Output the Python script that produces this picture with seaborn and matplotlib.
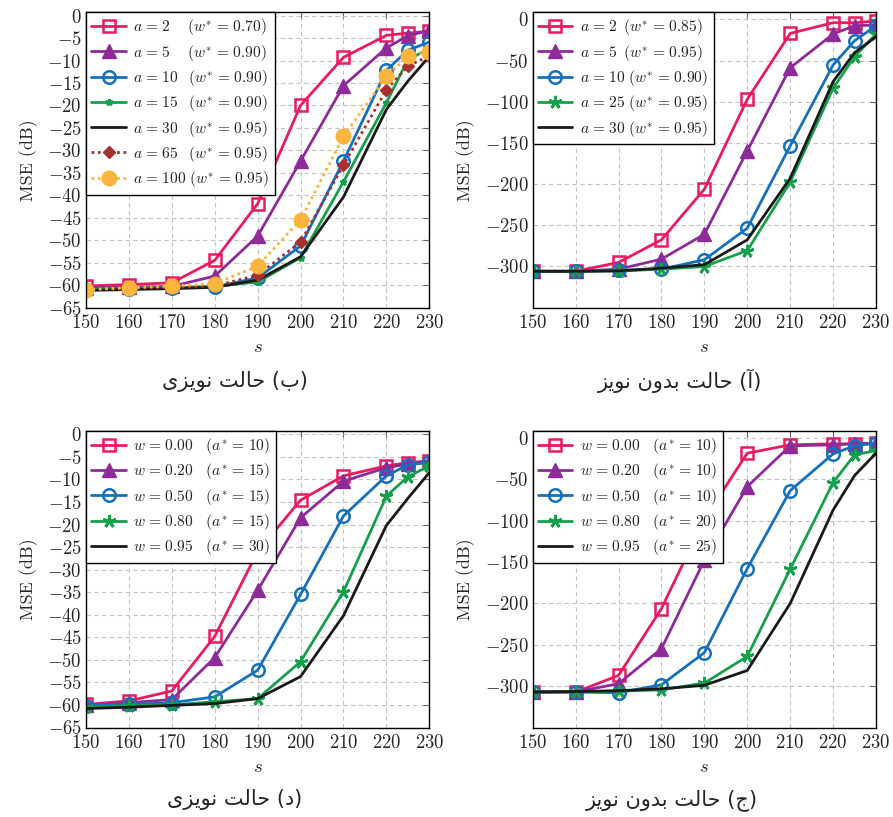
import numpy as np
import pandas as pd
import matplotlib
matplotlib.use("Agg")
import matplotlib.pyplot as plt
from matplotlib.ticker import FixedLocator
import seaborn as sns

# ---------------------------------------------------------------- data
s_vals = [150, 160, 170, 180, 190, 200, 210, 220, 225, 230]

# (b) noisy case, different a
noisy_a_labels = [2, 5, 10, 15, 30, 65, 100]
noisy_a_wstar = ["0.70", "0.90", "0.90", "0.90", "0.95", "0.95", "0.95"]
noisy_a2 = [-60.2, -59.9, -59.5, -54.5, -41.9, -20.0, -9.3, -4.4, -3.9, -3.5]
noisy_a5 = [-60.6, -60.5, -60.3, -58.0, -49.1, -32.4, -15.6, -7.2, -4.5, -3.3]
noisy_a10 = [-61.0, -60.8, -60.6, -60.4, -58.4, -51.3, -32.4, -12.2, -7.7, -5.9]
noisy_a15 = [-61.0, -60.8, -60.6, -60.3, -59.3, -53.9, -37.0, -19.4, -9.8, -7.4]
noisy_a30 = [-61.2, -61.0, -60.8, -60.5, -58.9, -53.7, -40.4, -20.9, -14.6, -9.1]
noisy_a65 = [-61.0, -60.8, -60.5, -60.2, -57.8, -50.4, -33.3, -16.5, -11.3, -8.9]
noisy_a100 = [-61.0, -60.6, -60.2, -59.7, -55.8, -45.5, -26.9, -13.5, -9.1, -8.1]

# (a) noiseless case, different a
clean_a_labels = [2, 5, 10, 25, 30]
clean_a_wstar = ["0.85", "0.95", "0.90", "0.95", "0.95"]
clean_a2 = [-306, -306, -295.3, -267.8, -206.3, -97.1, -17.0, -4.0, -4.0, -2.0]
clean_a5 = [-306, -306, -303.4, -291.3, -261.0, -159.8, -58.7, -17.8, -7.7, -6.9]
clean_a10 = [-306, -306, -305.0, -303.4, -292.0, -253.6, -153.7, -55.4, -25.9, -7.7]
clean_a25 = [-306, -306, -305.5, -303.4, -300.2, -280.8, -197.8, -83.7, -45.3, -17.8]
clean_a30 = [-306, -306, -305.5, -302.2, -298.0, -267.8, -193.0, -75.6, -40.5, -21.0]

# (d) noisy case, different w
noisy_w_labels = ["0.00", "0.20", "0.50", "0.80", "0.95"]
noisy_w_astar = [10, 15, 15, 15, 30]
noisy_w00 = [-59.9, -59.1, -56.9, -44.8, -26.0, -14.6, -9.2, -7.0, -6.3, -5.9]
noisy_w20 = [-60.0, -59.5, -58.8, -49.5, -34.6, -18.5, -10.4, -7.4, -6.6, -6.1]
noisy_w50 = [-60.2, -59.9, -59.5, -58.2, -52.3, -35.5, -18.1, -9.2, -6.8, -6.2]
noisy_w80 = [-60.5, -60.2, -60.0, -59.3, -58.6, -50.4, -34.9, -13.7, -9.4, -7.0]
noisy_w95 = [-60.8, -60.5, -60.1, -59.7, -58.6, -53.7, -40.2, -20.2, -14.2, -8.5]

# (c) noiseless case, different w
clean_w_labels = ["0.00", "0.20", "0.50", "0.80", "0.95"]
clean_w_astar = [10, 10, 10, 20, 25]
clean_w00 = [-307.2, -307.2, -287.0, -206.2, -98.0, -18.2, -8.1, -6.9, -6.9, -6.1]
clean_w20 = [-307, -307, -297.0, -254.7, -147.6, -58.6, -9.3, -8.1, -6.9, -6.1]
clean_w50 = [-307, -307, -308.0, -298.3, -259.5, -157.7, -63.5, -19.0, -9.3, -6.1]
clean_w80 = [-307, -307, -306.0, -304.4, -296.3, -264.0, -158.5, -53.8, -20.2, -15.0]
clean_w95 = [-307, -306.5, -305.5, -303.2, -299.0, -281.0, -200.0, -87.0, -45.3, -18.2]

captions = {
    "tl": "(ب) حالت نویزی",
    "tr": "(آ) حالت بدون نویز",
    "bl": "(د) حالت نویزی",
    "br": "(ج) حالت بدون نویز",
}

# ---------------------------------------------------------------- styles
PINK = "#ea1b5e"
PURPLE = "#8e2b98"
BLUE = "#1570be"
GREEN = "#15a04b"
BLACK = "#1a1a1a"
DARKRED = "#a8302e"
ORANGE = "#fbb43c"
ASTERISK = (5, 2, 0)

STYLE = {
    "sq": dict(color=PINK, marker="s", markersize=8.5, markerfacecolor="none",
               markeredgecolor=PINK, markeredgewidth=1.8),
    "tri": dict(color=PURPLE, marker="^", markersize=9.5, markerfacecolor=PURPLE,
                markeredgecolor=PURPLE, markeredgewidth=1.0),
    "circ": dict(color=BLUE, marker="o", markersize=9, markerfacecolor="none",
                 markeredgecolor=BLUE, markeredgewidth=1.8),
    "star_small": dict(color=GREEN, marker=ASTERISK, markersize=5,
                       markerfacecolor=GREEN, markeredgecolor=GREEN, markeredgewidth=1.8),
    "star": dict(color=GREEN, marker=ASTERISK, markersize=9.5,
                 markerfacecolor=GREEN, markeredgecolor=GREEN, markeredgewidth=2.0),
    "plain": dict(color=BLACK),
    "diam": dict(color=DARKRED, marker="D", markersize=6.5, markerfacecolor=DARKRED,
                 markeredgecolor=DARKRED, markeredgewidth=1.0, linestyle=(0, (1, 1.3))),
    "dot": dict(color=ORANGE, marker="o", markersize=10.5, markerfacecolor=ORANGE,
                markeredgecolor=ORANGE, markeredgewidth=1.0, linestyle=(0, (1, 1.3))),
}

# ---------------------------------------------------------------- Persian text
FORMS = {
    "\u0627": ("\uFE8D", "\uFE8E", None, None),
    "\u0622": ("\uFE81", "\uFE82", None, None),
    "\u0628": ("\uFE8F", "\uFE90", "\uFE91", "\uFE92"),
    "\u062A": ("\uFE95", "\uFE96", "\uFE97", "\uFE98"),
    "\u062C": ("\uFE9D", "\uFE9E", "\uFE9F", "\uFEA0"),
    "\u062D": ("\uFEA1", "\uFEA2", "\uFEA3", "\uFEA4"),
    "\u062F": ("\uFEA9", "\uFEAA", None, None),
    "\u0632": ("\uFEAF", "\uFEB0", None, None),
    "\u0644": ("\uFEDD", "\uFEDE", "\uFEDF", "\uFEE0"),
    "\u0646": ("\uFEE5", "\uFEE6", "\uFEE7", "\uFEE8"),
    "\u0648": ("\uFEED", "\uFEEE", None, None),
    "\u06CC": ("\uFEEF", "\uFEF0", "\uFEF3", "\uFEF4"),
    "\u064A": ("\uFEEF", "\uFEF0", "\uFEF3", "\uFEF4"),
}


def shape_rtl(text):
    """Contextual letter forms plus right-to-left visual ordering."""
    out = []
    for i, ch in enumerate(text):
        if ch not in FORMS:
            out.append(ch)
            continue
        prev = text[i - 1] if i > 0 else ""
        nxt = text[i + 1] if i + 1 < len(text) else ""
        join_prev = prev in FORMS and FORMS[prev][2] is not None
        join_next = nxt in FORMS and FORMS[ch][2] is not None
        iso, fin, ini, med = FORMS[ch]
        if join_prev and join_next:
            out.append(med)
        elif join_prev:
            out.append(fin)
        elif join_next:
            out.append(ini)
        else:
            out.append(iso)
    visual = "".join(reversed(out))
    return visual.translate(str.maketrans("()", ")("))


# ---------------------------------------------------------------- theme
sns.set_style("white")
plt.rcParams.update({
    "font.family": "serif",
    "font.serif": ["cmr10"],
    "mathtext.fontset": "cm",
    "axes.formatter.use_mathtext": True,
    "axes.unicode_minus": True,
    "axes.edgecolor": "black",
    "axes.linewidth": 1.0,
})

W, H = 893, 817
fig = plt.figure(figsize=(W / 100, H / 100), dpi=100)


def axes_at(left, top, right, bottom):
    return fig.add_axes([left / W, 1 - bottom / H, (right - left) / W, (bottom - top) / H])


ax_tl = axes_at(86, 12, 429.3, 307.5)
ax_tr = axes_at(532.7, 12, 876, 307.5)
ax_bl = axes_at(86, 430.7, 429.3, 727.5)
ax_br = axes_at(532.7, 430.7, 876, 727.5)


def draw_panel(ax, series, labels, yticks, ylim):
    for vals, label, key in zip(series[0], labels, series[1]):
        kw = dict(STYLE[key])
        ls = kw.pop("linestyle", "-")
        sns.lineplot(x=s_vals, y=vals, ax=ax, label=label, linewidth=2.0,
                     linestyle=ls, sort=False, **kw)
    ax.set_xlim(150, 230)
    ax.set_ylim(*ylim)
    ax.xaxis.set_major_locator(FixedLocator(list(range(150, 231, 10))))
    ax.yaxis.set_major_locator(FixedLocator(yticks))
    ax.grid(True, which="major", color="#c4c4c4", linestyle=(0, (4, 3)), linewidth=0.8)
    ax.set_axisbelow(True)
    ax.tick_params(direction="in", length=4, width=0.8, color="#666666",
                   top=True, right=True, labelsize=13.5)
    ax.tick_params(axis="x", pad=5)
    ax.tick_params(axis="y", pad=3)
    ax.set_xlabel("$s$", fontsize=13.5, labelpad=4)
    ax.set_ylabel("MSE (dB)", fontsize=13, labelpad=7)
    leg = ax.legend(loc="upper left", borderaxespad=0.0, fontsize=11.2,
                    handlelength=2.2, handletextpad=0.5, labelspacing=0.34,
                    borderpad=0.35, frameon=True, fancybox=False, framealpha=1.0,
                    edgecolor="black")
    leg.get_frame().set_linewidth(1.0)
    leg.set_zorder(10)


EQ = r"\!\;=\;\!"
pad_b = {1: r"\quad\ ", 2: r"\enspace\ ", 3: r"\ "}
labels_tl = [rf"$a{EQ}{a}{pad_b[len(str(a))]}(w^{{*}}{EQ}{w})$"
             for a, w in zip(noisy_a_labels, noisy_a_wstar)]
pad_a = {1: r"\enspace ", 2: r"\ "}
labels_tr = [rf"$a{EQ}{a}{pad_a[len(str(a))]}(w^{{*}}{EQ}{w})$"
             for a, w in zip(clean_a_labels, clean_a_wstar)]
labels_bl = [rf"$w{EQ}{w}\quad(a^{{*}}{EQ}{a})$" for w, a in zip(noisy_w_labels, noisy_w_astar)]
labels_br = [rf"$w{EQ}{w}\quad(a^{{*}}{EQ}{a})$" for w, a in zip(clean_w_labels, clean_w_astar)]

yt_db = list(range(0, -66, -5))
yt_big = list(range(0, -301, -50))

draw_panel(ax_tl,
           ([noisy_a2, noisy_a5, noisy_a10, noisy_a15, noisy_a30, noisy_a65, noisy_a100],
            ["sq", "tri", "circ", "star_small", "plain", "diam", "dot"]),
           labels_tl, yt_db, (-65, 0.8))
draw_panel(ax_tr,
           ([clean_a2, clean_a5, clean_a10, clean_a25, clean_a30],
            ["sq", "tri", "circ", "star", "plain"]),
           labels_tr, yt_big, (-350, 9))
draw_panel(ax_bl,
           ([noisy_w00, noisy_w20, noisy_w50, noisy_w80, noisy_w95],
            ["sq", "tri", "circ", "star", "plain"]),
           labels_bl, yt_db, (-65, 0.8))
draw_panel(ax_br,
           ([clean_w00, clean_w20, clean_w50, clean_w80, clean_w95],
            ["sq", "tri", "circ", "star", "plain"]),
           labels_br, yt_big, (-350, 9))

# sub-figure captions
cap_kw = dict(ha="center", va="center", fontsize=15, family=["DejaVu Sans"])
fig.text(235 / W, 1 - 381 / H, shape_rtl(captions["tl"]), **cap_kw)
fig.text(680 / W, 1 - 381 / H, shape_rtl(captions["tr"]), **cap_kw)
fig.text(235 / W, 1 - 800 / H, shape_rtl(captions["bl"]), **cap_kw)
fig.text(672 / W, 1 - 800 / H, shape_rtl(captions["br"]), **cap_kw)

fig.savefig("out.png", dpi=100)
